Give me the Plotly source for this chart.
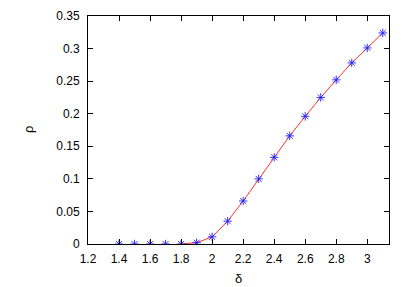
import plotly.graph_objects as go

delta = [1.4, 1.5, 1.6, 1.7, 1.8, 1.9, 2.0, 2.1, 2.2, 2.3, 2.4, 2.5, 2.6, 2.7, 2.8, 2.9, 3.0, 3.1]
rho = [0.0, 0.0, 0.0, 0.0, 0.0, 0.002, 0.011, 0.035, 0.066, 0.100, 0.133, 0.166, 0.196, 0.225, 0.252, 0.278, 0.301, 0.324]

line_start = 4  # red curve starts at delta = 1.8

x_ticks = [1.2, 1.4, 1.6, 1.8, 2.0, 2.2, 2.4, 2.6, 2.8, 3.0]
x_tick_text = ["1.2", "1.4", "1.6", "1.8", "2", "2.2", "2.4", "2.6", "2.8", "3"]
y_ticks = [0, 0.05, 0.1, 0.15, 0.2, 0.25, 0.3, 0.35]
y_tick_text = ["0", "0.05", "0.1", "0.15", "0.2", "0.25", "0.3", "0.35"]

FONT = "Liberation Sans, Arial, sans-serif"

fig = go.Figure()
fig.add_trace(go.Scatter(
    x=delta[line_start:], y=rho[line_start:], mode="lines",
    line=dict(color="#ff3030", width=1), showlegend=False, hoverinfo="skip"))
fig.add_trace(go.Scatter(
    x=delta, y=rho, mode="markers",
    marker=dict(symbol="asterisk-open", size=7, color="rgba(30,30,255,0.9)",
                line=dict(color="rgba(30,30,255,0.9)", width=1)),
    showlegend=False))

axis_common = dict(
    showline=True, linecolor="black", linewidth=1, mirror="ticks",
    ticks="inside", ticklen=5, tickcolor="black", tickwidth=1,
    showgrid=False, zeroline=False, automargin=False,
    tickfont=dict(family=FONT, size=12, color="black"),
)

fig.update_layout(
    width=409, height=287,
    margin=dict(l=88, r=20, t=16, b=43),
    paper_bgcolor="white", plot_bgcolor="white",
    xaxis=dict(range=[1.2, 3.14], tickvals=x_ticks, ticktext=x_tick_text,
               ticklabelstandoff=4, **axis_common),
    yaxis=dict(range=[0, 0.35], tickvals=y_ticks, ticktext=y_tick_text,
               ticklabelstandoff=5, **axis_common),
    annotations=[
        dict(text="δ", xref="paper", yref="paper", x=0.5, y=0, yshift=-34,
             xanchor="center", yanchor="middle", showarrow=False,
             font=dict(family=FONT, size=13, color="black")),
        dict(text="ρ", xref="paper", yref="paper", x=0, y=0.5, xshift=-60,
             xanchor="center", yanchor="middle", showarrow=False, textangle=-90,
             font=dict(family=FONT, size=13, color="black")),
    ],
)

fig.write_html("out.html", config={"displayModeBar": False},
               post_script="document.body.style.margin='0';document.body.style.overflow='hidden';")
